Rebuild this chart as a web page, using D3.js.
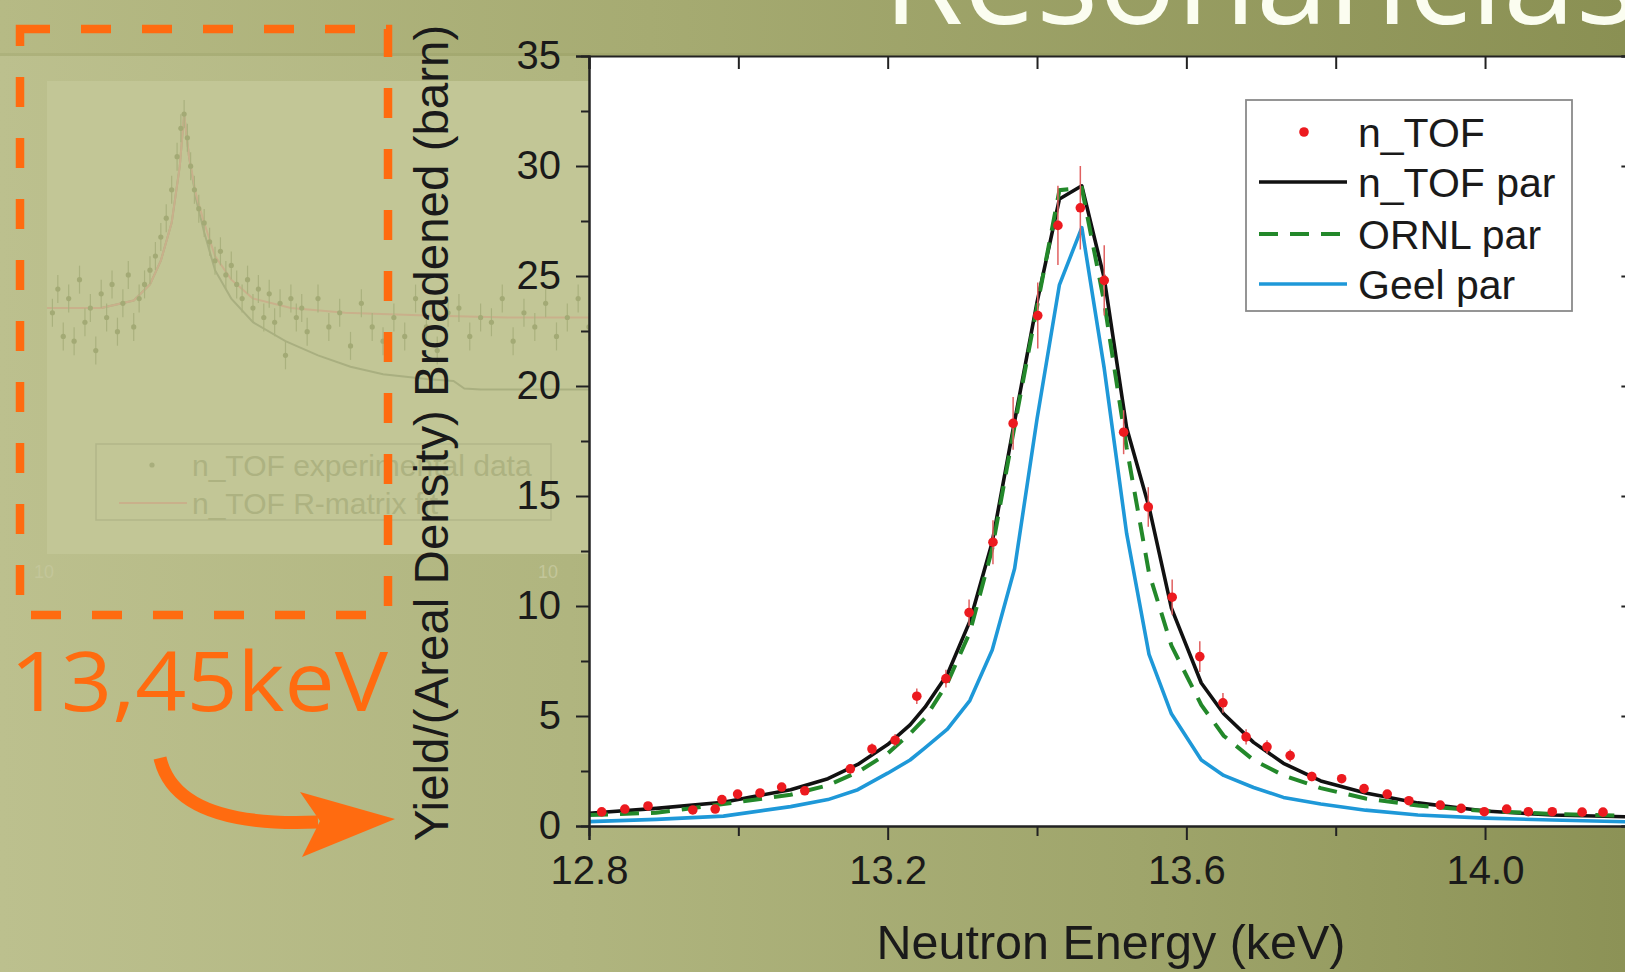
<!DOCTYPE html>
<html>
<head>
<meta charset="utf-8">
<script src="https://cdn.jsdelivr.net/npm/d3@7"></script>
<style>
  html, body { margin: 0; padding: 0; background: #b0b57f; }
  svg { display: block; }
</style>
</head>
<body>
<div id="chart"></div>
<script>
// ---------------- DATA ----------------
// Main chart: n_TOF experimental points (energy keV, yield, error)
const ntofEnergy = [12.817, 12.848, 12.879, 12.939, 12.969, 12.978, 12.999, 13.029, 13.058, 13.089,
  13.150, 13.179, 13.210, 13.239, 13.278, 13.309, 13.341, 13.368, 13.401, 13.428,
  13.458, 13.490, 13.516, 13.549, 13.581, 13.618, 13.649, 13.680, 13.708, 13.739,
  13.768, 13.808, 13.838, 13.869, 13.898, 13.940, 13.968, 13.999, 14.029, 14.058,
  14.090, 14.130, 14.158];
const ntofYield = [0.64, 0.77, 0.91, 0.73, 0.77, 1.2, 1.45, 1.5, 1.77, 1.6,
  2.6, 3.5, 3.9, 5.9, 6.7, 9.7, 12.9, 18.3, 23.2, 27.3,
  28.1, 24.8, 17.9, 14.5, 10.4, 7.7, 5.6, 4.05, 3.6, 3.2,
  2.25, 2.15, 1.7, 1.45, 1.15, 0.95, 0.8, 0.65, 0.77, 0.65,
  0.65, 0.63, 0.63];
const ntofError = [0.12, 0.12, 0.13, 0.13, 0.13, 0.15, 0.16, 0.17, 0.18, 0.18,
  0.22, 0.25, 0.28, 0.35, 0.4, 0.6, 1.0, 1.2, 1.5, 1.8,
  1.9, 1.6, 1.0, 0.9, 0.8, 0.7, 0.45, 0.35, 0.3, 0.28,
  0.22, 0.2, 0.18, 0.16, 0.15, 0.14, 0.13, 0.12, 0.12, 0.12,
  0.12, 0.12, 0.12];

// Fitted curves (shared energy grid)
const curveEnergy = [12.80, 12.89, 12.98, 13.07, 13.12, 13.16, 13.20, 13.23, 13.25, 13.28, 13.31, 13.34,
  13.37, 13.40, 13.43, 13.46, 13.49, 13.52, 13.55, 13.58, 13.62, 13.65,
  13.69, 13.73, 13.78, 13.84, 13.91, 14.00, 14.09, 14.20];
const ntofPar = [0.58, 0.80, 1.08, 1.65, 2.15, 2.8, 3.7, 4.6, 5.4, 6.9, 9.3, 12.9,
  18.4, 23.8, 28.5, 29.1, 24.9, 18.1, 14.5, 9.9, 6.5, 5.1,
  3.8, 2.85, 2.05, 1.5, 1.05, 0.68, 0.5, 0.41];
const ornlPar = [0.5, 0.6, 1.0, 1.42, 1.85, 2.45, 3.3, 4.2, 4.9, 6.5, 8.8, 12.6,
  18.2, 23.6, 28.9, 29.0, 23.8, 17.2, 11.5, 8.2, 5.5, 4.1,
  3.0, 2.3, 1.72, 1.25, 0.93, 0.68, 0.55, 0.45];
const geelPar = [0.2, 0.3, 0.45, 0.88, 1.2, 1.65, 2.4, 3.0, 3.55, 4.4, 5.7, 8.0,
  11.7, 18.5, 24.6, 27.2, 20.8, 13.3, 7.8, 5.1, 3.0, 2.3,
  1.75, 1.3, 1.0, 0.72, 0.5, 0.36, 0.27, 0.18];

const xMajorTicks = [12.8, 13.2, 13.6, 14.0];
const xMinorTicks = [13.0, 13.4, 13.8];
const yMajorTicks = [0, 5, 10, 15, 20, 25, 30, 35];
const yMinorTicks = [2.5, 7.5, 12.5, 17.5, 22.5, 27.5, 32.5];
const legendLabels = ["n_TOF", "n_TOF par", "ORNL par", "Geel par"];

// Faded background inset (overview of the resonance), arbitrary units
const insetU = [1, 2, 3, 4, 5, 6, 7, 8, 9, 10, 11, 12, 13, 14, 15, 16, 17, 18, 19, 20, 21, 22, 23, 24,
  24.7, 25.3, 25.9, 26.5, 27.2, 28,
  29, 30, 31, 32, 33, 34, 35, 36, 37, 38, 39, 40, 41, 42, 43, 44, 45, 46, 47, 48,
  50, 52, 54, 56, 58, 60, 62, 64, 66, 68, 70, 72, 74, 76, 78, 80, 82, 84, 86, 88, 90, 92, 94, 96, 98, 100];
const insetV = [25.5, 28, 23, 27, 22.5, 29, 24.5, 26, 21.5, 27.5, 25, 28.5, 23.5, 26.5, 29.5, 24, 27, 28.5, 30, 31.5, 33.5, 35.5, 38.5, 42,
  45, 46.5, 44, 41, 38.5, 36.5,
  35, 33, 31, 32, 29.5, 30.5, 28.5, 27, 29, 26, 28, 25, 27.5, 24.5, 26.5, 21, 27, 25, 26, 23.5,
  27, 24, 25.5, 22, 26.5, 24, 22.5, 25, 23, 27, 24, 21.5, 25.5, 26, 23, 25, 24.5, 27, 22.5, 25.5, 24, 26.5, 23, 25, 27, 24];
const insetFitU = [0, 10, 16, 19, 21, 23, 24.5, 25.3, 26.2, 27.5, 29, 31, 34, 38, 45, 55, 70, 85, 100];
const insetFitV = [26, 26, 26.8, 28.5, 31, 35, 41, 46.5, 42, 38, 35, 31.5, 29, 27, 26, 25.5, 25.2, 25, 25];
const insetFit2U = [0, 10, 16, 19, 21, 23, 24.5, 25.3, 26.2, 27.5, 29, 31, 34, 38, 44, 50, 56, 62, 70, 75, 77, 80, 100];
const insetFit2V = [26, 26, 26.8, 28.5, 31, 35, 41, 46.5, 42, 37.5, 34, 30, 27, 24.5, 22.5, 21, 19.8, 19.0, 18.5, 18.3, 17.5, 17.4, 17.4];
const insetLegend = ["n_TOF experimental data", "n_TOF R-matrix fit"];
const insetTickLabels = ["10", "10"];

const slideTitle = "Resonancias";
const energyLabel = "13,45keV";

// ---------------- DRAW ----------------
const W = 1625, H = 972;
const svg = d3.select("#chart").append("svg").attr("width", W).attr("height", H);
const defs = svg.append("defs");

const bg = defs.append("linearGradient").attr("id", "bg").attr("x1", 0).attr("x2", 1).attr("y1", 0).attr("y2", 0);
[["0%", "#bcc08e"], ["35%", "#b0b57f"], ["70%", "#9fa56b"], ["100%", "#8c9256"]]
  .forEach(s => bg.append("stop").attr("offset", s[0]).attr("stop-color", s[1]));
const hd = defs.append("linearGradient").attr("id", "hd").attr("x1", 0).attr("x2", 1).attr("y1", 0).attr("y2", 0);
[["0%", "#b6ba85"], ["40%", "#a6ab72"], ["100%", "#8a9053"]]
  .forEach(s => hd.append("stop").attr("offset", s[0]).attr("stop-color", s[1]));

svg.append("rect").attr("width", W).attr("height", H).attr("fill", "url(#bg)");
svg.append("rect").attr("width", W).attr("height", 56).attr("fill", "url(#hd)");
svg.append("rect").attr("y", 53).attr("width", W).attr("height", 3).attr("fill", "#7d8349").attr("opacity", 0.15);

// slide title (cut off at the top)
svg.append("text").attr("x", 883).attr("y", 24)
  .attr("font-family", "'Open Sans', 'Noto Sans', sans-serif").attr("font-size", 130)
  .attr("fill", "#fbfdf0").text(slideTitle);

// ---- faded inset ----
const ix = d3.scaleLinear().domain([0, 100]).range([47, 589]);
const iy = d3.scaleLinear().domain([0, 50]).range([554, 81]);
const inset = svg.append("g");
inset.append("rect").attr("x", 47).attr("y", 81).attr("width", 542).attr("height", 473).attr("fill", "#c2c696");
inset.append("path")
  .attr("d", d3.line().x((d, i) => ix(insetFit2U[i])).y((d, i) => iy(insetFit2V[i]))(insetFit2U))
  .attr("fill", "none").attr("stroke", "#a9af80").attr("stroke-width", 2);
inset.append("path")
  .attr("d", d3.line().x((d, i) => ix(insetFitU[i])).y((d, i) => iy(insetFitV[i]))(insetFitU))
  .attr("fill", "none").attr("stroke", "#c9b08b").attr("stroke-width", 2);
inset.selectAll("line.ie").data(insetU).enter().append("line")
  .attr("x1", d => ix(d)).attr("x2", d => ix(d))
  .attr("y1", (d, i) => iy(insetV[i]) - 14).attr("y2", (d, i) => iy(insetV[i]) + 14)
  .attr("stroke", "#aab17e").attr("stroke-width", 1.2);
inset.selectAll("circle.ip").data(insetU).enter().append("circle")
  .attr("cx", d => ix(d)).attr("cy", (d, i) => iy(insetV[i])).attr("r", 2.6)
  .attr("fill", "#a3aa75");
// inset legend
inset.append("rect").attr("x", 96).attr("y", 444).attr("width", 455).attr("height", 76)
  .attr("fill", "none").attr("stroke", "#b2b689").attr("stroke-width", 1.5);
inset.append("circle").attr("cx", 152).attr("cy", 465).attr("r", 2.6).attr("fill", "#a8ae7c");
inset.append("line").attr("x1", 119).attr("x2", 187).attr("y1", 503).attr("y2", 503)
  .attr("stroke", "#c9b08b").attr("stroke-width", 2);
inset.selectAll("text.il").data(insetLegend).enter().append("text")
  .attr("x", 192).attr("y", (d, i) => 465 + i * 38).attr("dy", "0.35em")
  .attr("font-family", "'Liberation Sans', Arial, sans-serif").attr("font-size", 30)
  .attr("fill", "#adb281").text(d => d);
inset.selectAll("text.it").data(insetTickLabels).enter().append("text")
  .attr("x", (d, i) => i === 0 ? 44 : 548).attr("y", 578).attr("text-anchor", "middle")
  .attr("font-family", "'Liberation Sans', Arial, sans-serif").attr("font-size", 18)
  .attr("fill", "#c3c69a").text(d => d);

// ---- orange annotation ----
const orange = "#ff6b10";
svg.append("rect").attr("x", 20).attr("y", 29).attr("width", 368).attr("height", 586)
  .attr("fill", "none").attr("stroke", orange).attr("stroke-width", 8.5)
  .attr("stroke-dasharray", "30,31");
svg.append("text").attr("x", 10).attr("y", 711)
  .attr("font-family", "'Open Sans', 'Noto Sans', sans-serif").attr("font-size", 82)
  .attr("textLength", 378).attr("lengthAdjust", "spacingAndGlyphs")
  .attr("fill", orange).text(energyLabel);
svg.append("path").attr("d", "M160,758 Q176,828 318,822")
  .attr("fill", "none").attr("stroke", orange).attr("stroke-width", 13);
svg.append("path").attr("d", "M395,819 L300,792 L320,821 L302,857 Z").attr("fill", orange);

// ---- main plot ----
const L = 589, T = 56, B = 826;
const x = d3.scaleLinear().domain([12.8, 14.2]).range([L, L + 1.4 * 746.7]);
const y = d3.scaleLinear().domain([0, 35]).range([B, T]);
const R = x(14.2);

svg.append("rect").attr("x", L).attr("y", T).attr("width", R - L).attr("height", B - T).attr("fill", "#ffffff");
defs.append("clipPath").attr("id", "clip").append("rect")
  .attr("x", L).attr("y", T).attr("width", R - L).attr("height", B - T);
const plot = svg.append("g").attr("clip-path", "url(#clip)");

const line = vals => d3.line().x((d, i) => x(curveEnergy[i])).y(d => y(d))(vals);
plot.append("path").attr("d", line(geelPar)).attr("fill", "none")
  .attr("stroke", "#1e98d8").attr("stroke-width", 3.6).attr("stroke-linejoin", "round");
plot.append("path").attr("d", line(ntofPar)).attr("fill", "none")
  .attr("stroke", "#111111").attr("stroke-width", 3.6).attr("stroke-linejoin", "round");
plot.append("path").attr("d", line(ornlPar)).attr("fill", "none")
  .attr("stroke", "#23882a").attr("stroke-width", 4).attr("stroke-dasharray", "19,12");

plot.selectAll("line.err").data(ntofEnergy).enter().append("line")
  .attr("x1", d => x(d)).attr("x2", d => x(d))
  .attr("y1", (d, i) => y(ntofYield[i] - ntofError[i]))
  .attr("y2", (d, i) => y(ntofYield[i] + ntofError[i]))
  .attr("stroke", "#e06060").attr("stroke-width", 1.5);
plot.selectAll("circle.pt").data(ntofEnergy).enter().append("circle")
  .attr("cx", d => x(d)).attr("cy", (d, i) => y(ntofYield[i])).attr("r", 4.8)
  .attr("fill", "#ec1a1f");

// axes
const fontAxis = "'Liberation Sans', Arial, sans-serif";
function styleAxis(g) {
  g.selectAll(".domain").attr("stroke", "#222").attr("stroke-width", 2);
  g.selectAll(".tick line").attr("stroke", "#222").attr("stroke-width", 2);
  g.selectAll(".tick text").attr("font-family", fontAxis).attr("font-size", 40).attr("fill", "#1a1a1a");
}
svg.append("g").attr("transform", `translate(0,${B})`)
  .call(d3.axisBottom(x).tickValues(xMajorTicks).tickSize(14).tickPadding(16).tickFormat(d3.format(".1f")))
  .call(styleAxis);
svg.append("g").attr("transform", `translate(0,${B})`)
  .call(d3.axisBottom(x).tickValues(xMinorTicks).tickSize(10).tickFormat("")).call(styleAxis);
svg.append("g").attr("transform", `translate(0,${T})`)
  .call(d3.axisTop(x).tickValues(xMajorTicks.concat(xMinorTicks)).tickSize(-13).tickFormat("")).call(styleAxis);
svg.append("g").attr("transform", `translate(${L},0)`)
  .call(d3.axisLeft(y).tickValues(yMajorTicks).tickSize(13).tickPadding(15).tickFormat(d3.format("d")))
  .call(styleAxis);
svg.append("g").attr("transform", `translate(${L},0)`)
  .call(d3.axisLeft(y).tickValues(yMinorTicks).tickSize(8).tickFormat("")).call(styleAxis);
svg.append("g").attr("transform", `translate(${R},0)`)
  .call(d3.axisRight(y).tickValues(yMajorTicks).tickSize(-13).tickFormat("")).call(styleAxis);
svg.append("g").attr("transform", `translate(${R},0)`)
  .call(d3.axisRight(y).tickValues(yMinorTicks).tickSize(-9).tickFormat("")).call(styleAxis);

// axis titles
svg.append("text").attr("x", 1111).attr("y", 959).attr("text-anchor", "middle")
  .attr("font-family", fontAxis).attr("font-size", 48.5).attr("fill", "#1a1a1a")
  .text("Neutron Energy (keV)");
svg.append("text").attr("transform", "translate(448,433) rotate(-90)").attr("text-anchor", "middle")
  .attr("font-family", fontAxis).attr("font-size", 47.5).attr("fill", "#1a1a1a")
  .text("Yield/(Areal Density) Broadened (barn)");

// legend
const lg = svg.append("g");
lg.append("rect").attr("x", 1246).attr("y", 100).attr("width", 326).attr("height", 211)
  .attr("fill", "#ffffff").attr("stroke", "#8a8a8a").attr("stroke-width", 1.8);
const rows = [132, 182, 234, 284];
lg.append("circle").attr("cx", 1304).attr("cy", rows[0]).attr("r", 4.8).attr("fill", "#ec1a1f");
lg.append("line").attr("x1", 1259).attr("x2", 1347).attr("y1", rows[1]).attr("y2", rows[1])
  .attr("stroke", "#111").attr("stroke-width", 3.6);
lg.append("line").attr("x1", 1259).attr("x2", 1347).attr("y1", rows[2]).attr("y2", rows[2])
  .attr("stroke", "#23882a").attr("stroke-width", 4).attr("stroke-dasharray", "19,12");
lg.append("line").attr("x1", 1259).attr("x2", 1347).attr("y1", rows[3]).attr("y2", rows[3])
  .attr("stroke", "#1e98d8").attr("stroke-width", 3.6);
lg.selectAll("text.lt").data(legendLabels).enter().append("text")
  .attr("x", 1358).attr("y", (d, i) => rows[i]).attr("dy", "0.36em")
  .attr("font-family", fontAxis).attr("font-size", 41).attr("fill", "#1a1a1a").text(d => d);
</script>
</body>
</html>
